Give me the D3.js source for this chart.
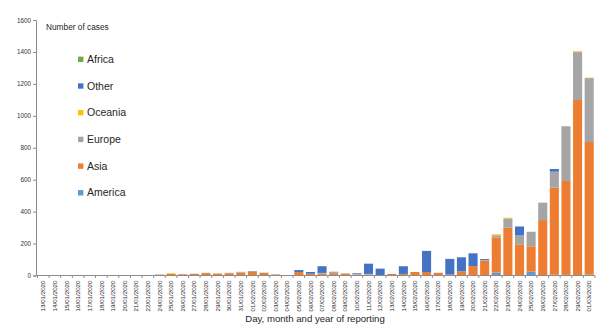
<!DOCTYPE html>
<html>
<head>
<meta charset="utf-8">
<script src="https://cdn.jsdelivr.net/npm/d3@7"></script>
<style>
  html, body { margin: 0; padding: 0; background: #fff; }
  svg { display: block; font-family: "Liberation Sans", Arial, sans-serif; }
</style>
</head>
<body>
<svg id="chart" width="607" height="329"></svg>
<script>
// Reporting dates (23/01 has no entry)
const dates = [
  "13/01/2020","14/01/2020","15/01/2020","16/01/2020","17/01/2020","18/01/2020","19/01/2020","20/01/2020","21/01/2020","22/01/2020",
  "24/01/2020","25/01/2020","26/01/2020","27/01/2020","28/01/2020","29/01/2020","30/01/2020","31/01/2020",
  "01/02/2020","02/02/2020","03/02/2020","04/02/2020","05/02/2020","06/02/2020","07/02/2020","08/02/2020","09/02/2020","10/02/2020",
  "11/02/2020","12/02/2020","13/02/2020","14/02/2020","15/02/2020","16/02/2020","17/02/2020","18/02/2020","19/02/2020","20/02/2020",
  "21/02/2020","22/02/2020","23/02/2020","24/02/2020","25/02/2020","26/02/2020","27/02/2020","28/02/2020","29/02/2020","01/03/2020"
];

// Cases per region and reporting day
const america = [0,0,0,0,0,0,0,0,0,0, 0,0,0,0,0,0,0,0, 0,0,0,0,0,0,0,0,0,0, 0,0,0,0,0,0,0,0,0,0, 0,18,0,0,24,0,5,4,0,6];
const asia    = [0,0,0,0,0,0,0,0,3,0, 5,10,8,10,15,12,14,18, 22,16,6,2,22,11,12,14,12,6, 6,3,10,10,22,22,17,6,26,59, 93,221,299,195,159,347,545,588,1099,830];
const europe  = [0,0,0,0,0,0,0,0,0,0, 2,0,0,1,2,0,3,5, 6,2,2,0,0,0,4,10,2,3, 4,0,0,0,0,0,0,0,0,0, 3,13,58,56,91,109,100,342,300,400];
const oceania = [0,0,0,0,0,0,0,0,0,0, 0,4,0,0,0,1,0,0, 0,0,0,0,0,0,0,0,0,0, 0,0,0,0,0,0,0,0,0,0, 0,6,5,0,0,0,0,0,5,3];
const other   = [0,0,0,0,0,0,0,0,0,0, 0,0,0,0,0,0,0,0, 0,0,0,0,12,11,42,0,0,5, 64,40,0,48,0,132,0,98,88,80, 7,0,0,56,0,0,17,0,0,0];
const africa  = [0,0,0,0,0,0,0,0,0,0, 0,0,0,0,0,0,0,0, 0,0,0,0,0,0,0,0,0,0, 0,0,0,0,0,0,0,0,0,0, 0,0,0,0,0,0,0,1,0,0];

const yTicks = [0, 200, 400, 600, 800, 1000, 1200, 1400, 1600];

// Stack order, bottom to top
const regions = [
  { key: "America", values: america, color: "#5b9bd5" },
  { key: "Asia",    values: asia,    color: "#ed7d31" },
  { key: "Europe",  values: europe,  color: "#a5a5a5" },
  { key: "Oceania", values: oceania, color: "#ffc000" },
  { key: "Other",   values: other,   color: "#4472c4" },
  { key: "Africa",  values: africa,  color: "#70ad47" }
];

const rows = dates.map((d, i) => {
  const r = { date: d };
  regions.forEach(s => { r[s.key] = s.values[i]; });
  return r;
});

const svg = d3.select("#chart");

const x = d3.scaleBand()
  .domain(dates)
  .range([37.5, 595])
  .paddingInner(0.22)
  .paddingOuter(0.11);

const y = d3.scaleLinear()
  .domain([0, 1600])
  .range([275.5, 20]);

const stack = d3.stack().keys(regions.map(s => s.key));
const layers = stack(rows);

// Bars
svg.append("g")
  .selectAll("g")
  .data(layers)
  .join("g")
  .attr("fill", (d, i) => regions[i].color)
  .selectAll("rect")
  .data(d => d.map((v, i) => ({ v, date: dates[i] })))
  .join("rect")
  .attr("x", d => x(d.date))
  .attr("width", x.bandwidth())
  .attr("y", d => y(d.v[1]))
  .attr("height", d => Math.max(0, y(d.v[0]) - y(d.v[1])));

// Y axis
const yAxis = d3.axisLeft(y)
  .tickValues(yTicks)
  .tickSize(3)
  .tickPadding(2)
  .tickFormat(d3.format("d"));

const gy = svg.append("g")
  .attr("transform", "translate(36,0)")
  .call(yAxis);
gy.select(".domain").attr("stroke", "#8c8c8c");
gy.selectAll(".tick line").attr("stroke", "#8c8c8c");
gy.selectAll(".tick text")
  .attr("font-size", 6.3)
  .attr("fill", "#333")
  .attr("font-family", "Liberation Sans, Arial, sans-serif");

// X axis: ticks at category boundaries, labels rotated
const gx = svg.append("g")
  .attr("transform", `translate(0,${y(0)})`);
gx.append("line")
  .attr("x1", 36).attr("x2", 595)
  .attr("y1", 0).attr("y2", 0)
  .attr("stroke", "#8c8c8c");
const step = x.step();
gx.selectAll("line.tk")
  .data(dates.concat(["end"]))
  .join("line")
  .attr("class", "tk")
  .attr("x1", (d, i) => x(dates[0]) - (step - x.bandwidth()) / 2 + i * step)
  .attr("x2", (d, i) => x(dates[0]) - (step - x.bandwidth()) / 2 + i * step)
  .attr("y1", 0).attr("y2", 2.5)
  .attr("stroke", "#8c8c8c");
gx.selectAll("text")
  .data(dates)
  .join("text")
  .attr("transform", d => `translate(${x(d) + x.bandwidth() / 2},5) rotate(-90)`)
  .attr("text-anchor", "end")
  .attr("dy", "0.35em")
  .attr("font-size", 6.2)
  .attr("fill", "#262626")
  .text(d => d);

// Axis titles
svg.append("text")
  .attr("x", 46).attr("y", 30)
  .attr("font-size", 8.3)
  .attr("fill", "#262626")
  .text("Number of cases");

svg.append("text")
  .attr("x", 315).attr("y", 322)
  .attr("text-anchor", "middle")
  .attr("font-size", 9.6)
  .attr("fill", "#262626")
  .text("Day, month and year of reporting");

// Legend (top entry is the topmost stack layer)
const legendItems = regions.slice().reverse();
const lg = svg.append("g").attr("transform", "translate(78,0)");
const li = lg.selectAll("g")
  .data(legendItems)
  .join("g")
  .attr("transform", (d, i) => `translate(0,${59.3 + i * 26.7})`);
li.append("rect")
  .attr("x", 0).attr("y", -2.7)
  .attr("width", 5.4).attr("height", 5.4)
  .attr("fill", d => d.color);
li.append("text")
  .attr("x", 9).attr("y", 0)
  .attr("dy", "0.35em")
  .attr("font-size", 10.5)
  .attr("fill", "#262626")
  .text(d => d.key);
</script>
</body>
</html>
